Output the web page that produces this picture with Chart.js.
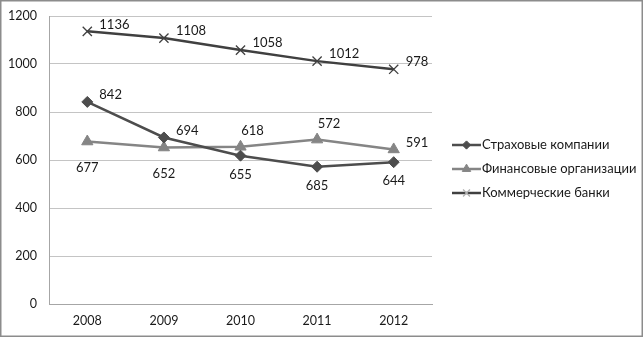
<!DOCTYPE html>
<html><head><meta charset="utf-8">
<script src="https://cdn.jsdelivr.net/npm/chart.js@4/dist/chart.umd.min.js"></script>
<style>html,body{margin:0;padding:0;background:#fff}#c{display:block}</style>
</head><body>
<canvas id="c" width="643" height="337"></canvas>
<script>
const categories = ['2008', '2009', '2010', '2011', '2012'];
const seriesNames = ['Страховые компании', 'Финансовые организации', 'Коммерческие банки'];
const insurance = [842, 694, 618, 572, 591];
const financial = [677, 652, 655, 685, 644];
const banks = [1136, 1108, 1058, 1012, 978];
// label texts as printed next to each point in the picture
const insuranceLabels = ['842', '694', '655', '685', '644'];
const financialLabels = ['677', '652', '618', '572', '591'];
const bankLabels = ['1136', '1108', '1058', '1012', '978'];
const yTicks = [0, 200, 400, 600, 800, 1000, 1200];

const insurancePlace = ['right', 'right', 'below', 'below', 'below'];
const financialPlace = ['below', 'below', 'above', 'above', 'right'];
const bankPlace = ['right', 'right', 'right', 'right', 'right'];

const FONT = 'Lato';
const TXT = '#1a1a1a';

const labelPlugin = {
  id: 'labels',
  afterDatasetsDraw(chart) {
    const ctx = chart.ctx;
    ctx.save();
    ctx.font = '13px ' + FONT;
    ctx.fillStyle = TXT;
    ctx.textBaseline = 'middle';
    chart.data.datasets.forEach((ds, di) => {
      const meta = chart.getDatasetMeta(di);
      meta.data.forEach((pt, i) => {
        const p = ds.place[i];
        let x = pt.x, y = pt.y;
        if (p === 'right') { ctx.textAlign = 'left'; x += 12; y -= 7; }
        else if (p === 'below') { ctx.textAlign = 'center'; y += ds.belowGap; }
        else { ctx.textAlign = 'center'; x += 12; y -= 16; }
        ctx.fillText(ds.texts[i], x, y);
      });
    });
    ctx.restore();
  },
  afterDraw(chart) {
    const ctx = chart.ctx;
    ctx.save();
    // legend
    const lx = 452, ly = 145, gap = 24;
    chart.data.datasets.forEach((ds, di) => {
      const y = ly + di * gap;
      ctx.strokeStyle = ds.borderColor;
      ctx.lineWidth = 2.5;
      ctx.beginPath(); ctx.moveTo(lx, y); ctx.lineTo(lx + 29, y); ctx.stroke();
      ctx.fillStyle = ds.pointBackgroundColor;
      ctx.strokeStyle = ds.legendMarkColor;
      ctx.lineWidth = ds.pointBorderWidth;
      Chart.helpers.drawPoint(ctx, {
        pointStyle: ds.pointStyle, radius: ds.pointRadius * 0.75, borderWidth: ds.pointBorderWidth
      }, lx + 14.5, y);
      ctx.font = '13px ' + FONT;
      ctx.fillStyle = TXT;
      ctx.textAlign = 'left';
      ctx.textBaseline = 'middle';
      ctx.fillText(ds.label, lx + 30, y);
    });
    // outer border
    ctx.strokeStyle = '#8c8c8c';
    ctx.lineWidth = 1.5;
    ctx.strokeRect(0.75, 0.75, 641.5, 335.5);
    ctx.restore();
  }
};

new Chart(document.getElementById('c'), {
  type: 'line',
  data: {
    labels: categories,
    datasets: [
      { label: seriesNames[0], data: insurance, texts: insuranceLabels, place: insurancePlace, belowGap: 19,
        borderColor: '#4d4d4d', backgroundColor: '#4d4d4d', borderWidth: 2.5, legendMarkColor: '#4d4d4d',
        pointStyle: 'rectRot', pointRadius: 5.5, pointBackgroundColor: '#4d4d4d', pointBorderColor: '#4d4d4d', pointBorderWidth: 1 },
      { label: seriesNames[1], data: financial, texts: financialLabels, place: financialPlace, belowGap: 26,
        borderColor: '#858585', backgroundColor: '#858585', borderWidth: 2.5, legendMarkColor: '#858585',
        pointStyle: 'triangle', pointRadius: 6.5, pointBackgroundColor: '#858585', pointBorderColor: '#858585', pointBorderWidth: 1 },
      { label: seriesNames[2], data: banks, texts: bankLabels, place: bankPlace, belowGap: 20,
        borderColor: '#404040', backgroundColor: '#404040', borderWidth: 2.5, legendMarkColor: '#b0b0b0',
        pointStyle: 'crossRot', pointRadius: 6.5, pointBackgroundColor: '#404040', pointBorderColor: '#404040', pointBorderWidth: 1.3 }
    ]
  },
  options: {
    responsive: false,
    animation: false,
    tension: 0,
    layout: { padding: { top: 16, right: 211, left: 0, bottom: 0 } },
    plugins: { legend: { display: false }, tooltip: { enabled: false } },
    scales: {
      x: {
        offset: true,
        grid: { display: false, drawTicks: false },
        border: { display: true, color: '#a6a6a6', width: 1 },
        ticks: { color: TXT, font: { family: FONT, size: 12.5 }, padding: 9, maxRotation: 0 },
        afterFit: s => { s.height = 33; s.paddingLeft = 0; s.paddingRight = 0; }
      },
      y: {
        min: 0, max: 1200,
        afterBuildTicks: s => { s.ticks = yTicks.map(v => ({ value: v })); },
        grid: { color: '#c4c4c4', lineWidth: 1, drawTicks: false },
        border: { display: true, color: '#a6a6a6', width: 1 },
        ticks: { color: TXT, font: { family: FONT, size: 12.5 }, padding: 12, callback: v => String(v) },
        afterFit: s => { s.width = 49; s.paddingTop = 0; s.paddingBottom = 0; }
      }
    }
  },
  plugins: [labelPlugin]
});
</script>
</body></html>
